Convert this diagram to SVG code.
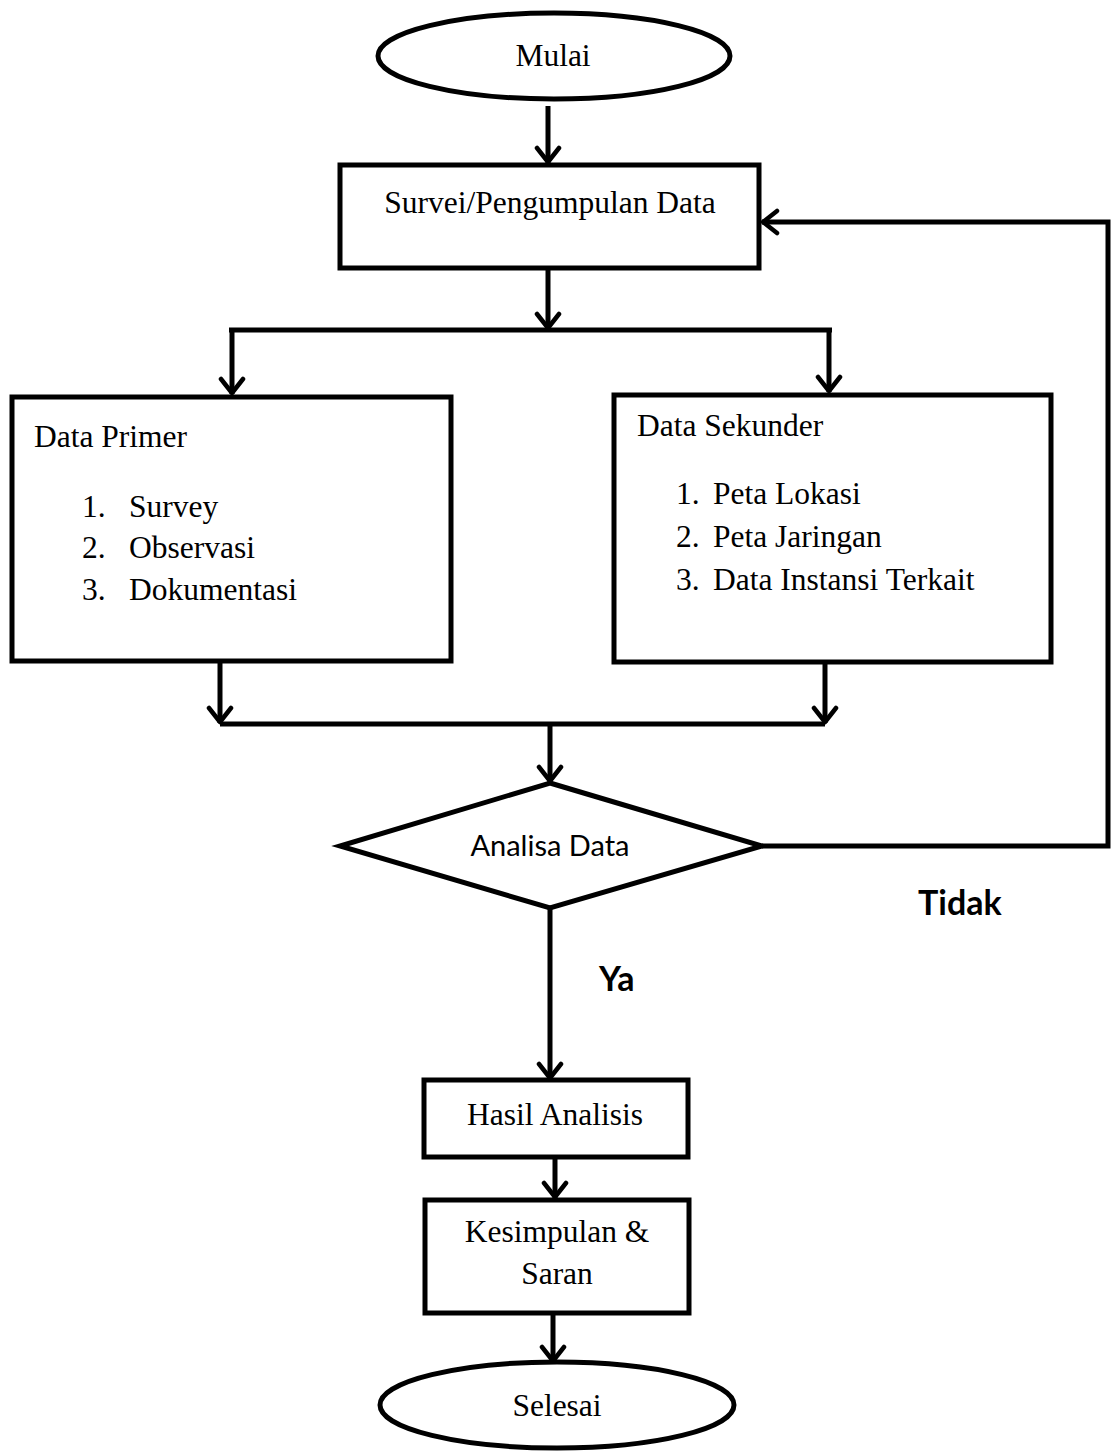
<svg xmlns="http://www.w3.org/2000/svg" width="1118" height="1452" viewBox="0 0 1118 1452">
<defs>
<marker id="arr" markerUnits="userSpaceOnUse" viewBox="-20 -14 24 28" markerWidth="24" markerHeight="28" refX="0" refY="0" orient="auto">
<path d="M -15 -11 L -1 0 L -15 11" fill="none" stroke="#000" stroke-width="4.5" stroke-linecap="round" stroke-linejoin="round"/>
</marker>
</defs>
<style>
.shape{fill:#fff;stroke:#000;stroke-width:5}
.ln{fill:none;stroke:#000;stroke-width:5}
.arw{fill:none;stroke:#000;stroke-width:5;marker-end:url(#arr)}
.t{font-family:"Liberation Serif","Times New Roman",serif;font-size:31.5px;fill:#000}
.c{text-anchor:middle}
.s{font-family:Lato,"Liberation Sans",sans-serif;font-size:29px;fill:#000}
.b{font-family:Lato,"Liberation Sans",sans-serif;font-size:34px;font-weight:bold;fill:#000}
</style>
<rect width="1118" height="1452" fill="#fff"/>
<g id="connectors">
<path class="arw" d="M548 106 V163"/>
<path class="arw" d="M548 268 V329"/>
<path class="ln" d="M229 330 H832"/>
<path class="arw" d="M232 332 V394"/>
<path class="arw" d="M829 332 V392"/>
<path class="arw" d="M220 661 V723"/>
<path class="arw" d="M825 662 V723"/>
<path class="ln" d="M220 724 H825"/>
<path class="arw" d="M550 724 V782"/>
<path class="arw" d="M550 908 V1079"/>
<path class="arw" d="M555 1157 V1198"/>
<path class="arw" d="M553 1313 V1362"/>
<path class="arw" d="M762 846 H1108 V222 H762"/>
</g>
<g id="mulai">
<ellipse class="shape" cx="554" cy="56" rx="176" ry="43"/>
<text class="t c" x="553" y="66">Mulai</text>
</g>
<g id="survei">
<rect class="shape" x="340" y="165" width="419" height="103"/>
<text class="t c" x="550" y="213">Survei/Pengumpulan Data</text>
</g>
<g id="data-primer">
<rect class="shape" x="12" y="397" width="439" height="264"/>
<text class="t" x="34" y="447">Data Primer</text>
<text class="t" x="82" y="517">1.</text><text class="t" x="129" y="517">Survey</text>
<text class="t" x="82" y="558">2.</text><text class="t" x="129" y="558">Observasi</text>
<text class="t" x="82" y="600">3.</text><text class="t" x="129" y="600">Dokumentasi</text>
</g>
<g id="data-sekunder">
<rect class="shape" x="614" y="395" width="437" height="267"/>
<text class="t" x="637" y="436">Data Sekunder</text>
<text class="t" x="676" y="504">1.</text><text class="t" x="713" y="504">Peta Lokasi</text>
<text class="t" x="676" y="547">2.</text><text class="t" x="713" y="547">Peta Jaringan</text>
<text class="t" x="676" y="590">3.</text><text class="t" x="713" y="590">Data Instansi Terkait</text>
</g>
<g id="analisa">
<polygon class="shape" points="550,783 762,846 550,908 340,846"/>
<text class="s c" x="550" y="856">Analisa Data</text>
</g>
<g id="labels">
<text class="b" x="918" y="915">Tidak</text>
<text class="b" x="599" y="991">Ya</text>
</g>
<g id="hasil">
<rect class="shape" x="424" y="1080" width="264" height="77"/>
<text class="t c" x="555" y="1125">Hasil Analisis</text>
</g>
<g id="kesimpulan">
<rect class="shape" x="425" y="1200" width="264" height="113"/>
<text class="t c" x="557" y="1242">Kesimpulan &amp;</text>
<text class="t c" x="557" y="1284">Saran</text>
</g>
<g id="selesai">
<ellipse class="shape" cx="557" cy="1405" rx="177" ry="43"/>
<text class="t c" x="557" y="1416">Selesai</text>
</g>
</svg>
